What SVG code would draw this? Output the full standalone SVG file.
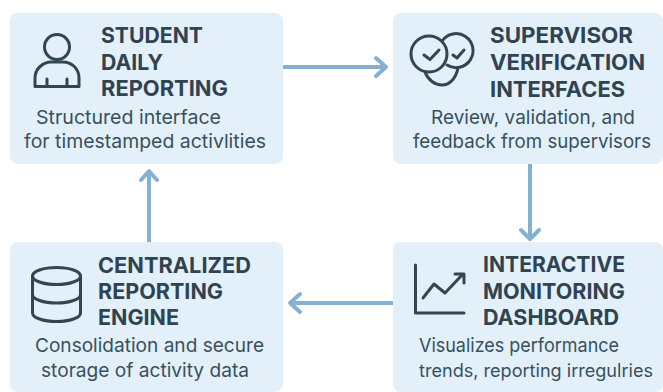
<svg xmlns="http://www.w3.org/2000/svg" width="663" height="392" viewBox="0 0 663 392">
<style>
.box{fill:#e3f0fa}
.t{font-family:"Inter","Liberation Sans",sans-serif;font-weight:700;font-size:21.500px;fill:#2f4350}
.s{font-family:"Inter","Liberation Sans",sans-serif;font-weight:400;font-size:19px;fill:#37505e}
.n{font-size:18px}
.i{fill:none;stroke:#334550;stroke-width:3;stroke-linecap:round;stroke-linejoin:round}
.c{fill:none;stroke:#84b1d2;stroke-width:4;stroke-linecap:butt;stroke-linejoin:round}
.h{fill:none;stroke:#84b1d2;stroke-width:4;stroke-linecap:round;stroke-linejoin:round}
</style>
<rect width="663" height="392" fill="#fff"/>
<g id="connectors">
<path class="c" d="M283 67H385"/><path class="h" d="M376 58L386 67L376 76"/>
<path class="c" d="M530 164V237"/><path class="h" d="M521 230L530 239L539 230"/>
<path class="c" d="M393 303H291"/><path class="h" d="M300 294L290 303L300 312"/>
<path class="c" d="M149 242V172"/><path class="h" d="M141 180L149 171L157 180"/>
</g>
<g id="student">
<rect class="box" x="10" y="13" width="273" height="151" rx="8"/>
<circle class="i" cx="57" cy="47" r="12.500"/>
<path class="i" d="M35 86.500V78C35 68 44 62 51 62H63C71 62 79 68 79 78V86.500ZM47 79V86M67 79V86"/>
<text class="t" x="101" y="43" textLength="102" lengthAdjust="spacingAndGlyphs">STUDENT</text>
<text class="t" x="101" y="70" textLength="62" lengthAdjust="spacingAndGlyphs">DAILY</text>
<text class="t" x="101" y="96" textLength="127" lengthAdjust="spacingAndGlyphs">REPORTING</text>
<text class="s" x="36" y="124" textLength="185" lengthAdjust="spacingAndGlyphs">Structured interface</text>
<text class="s" x="24" y="148" textLength="242" lengthAdjust="spacingAndGlyphs">for timestamped activlities</text>
</g>
<g id="supervisor">
<rect class="box" x="393" y="13" width="270" height="151" rx="8"/>
<circle class="i" cx="429" cy="54" r="18"/>
<path class="i" d="M442 41A17 17 0 1 1 447 65M425 72C428 80 435 85 442 85C450 85 456 78 458 68"/>
<path class="i" d="M424 55L430 59.500L439 50M453 55L457 58L464 50"/>
<text class="t" x="490" y="43" textLength="143" lengthAdjust="spacingAndGlyphs">SUPERVISOR</text>
<text class="t" x="490" y="70" textLength="155" lengthAdjust="spacingAndGlyphs">VERIFICATION</text>
<text class="t" x="490" y="97" textLength="135" lengthAdjust="spacingAndGlyphs">INTERFACES</text>
<text class="s" x="431" y="124" textLength="204" lengthAdjust="spacingAndGlyphs">Review, validation, and</text>
<text class="s" x="413" y="148" textLength="238" lengthAdjust="spacingAndGlyphs">feedback from supervisors</text>
</g>
<g id="engine">
<rect class="box" x="10" y="242" width="273" height="150" rx="8"/>
<ellipse class="i" cx="56.500" cy="276" rx="24" ry="8.500"/>
<path class="i" d="M32.500 276V313A24 8.500 0 0 0 80.500 313V276M32.500 294.500A24 8.500 0 0 0 80.500 294.500"/>
<text class="t" x="98" y="273" textLength="153" lengthAdjust="spacingAndGlyphs">CENTRALIZED</text>
<text class="t" x="98" y="299" textLength="125" lengthAdjust="spacingAndGlyphs">REPORTING</text>
<text class="t" x="98" y="325" textLength="81" lengthAdjust="spacingAndGlyphs">ENGINE</text>
<text class="s" x="35" y="352" textLength="229" lengthAdjust="spacingAndGlyphs">Consolidation and secure</text>
<text class="s" x="41" y="377" textLength="208" lengthAdjust="spacingAndGlyphs">storage of activity data</text>
</g>
<g id="dashboard">
<rect class="box" x="393" y="242" width="270" height="150" rx="8"/>
<path class="i" d="M415.500 265V313H464"/>
<path class="i" d="M423 298L434 284L445 293L463 274M455 274H464V283"/>
<text class="t" x="483" y="272" textLength="142" lengthAdjust="spacingAndGlyphs">INTERACTIVE</text>
<text class="t" x="483" y="299" textLength="142" lengthAdjust="spacingAndGlyphs">MONITORING</text>
<text class="t" x="483" y="325" textLength="136" lengthAdjust="spacingAndGlyphs">DASHBOARD</text>
<text class="s" x="419" y="352" textLength="200" lengthAdjust="spacingAndGlyphs">Visualizes performance</text>
<text class="s n" x="419" y="377" textLength="234" lengthAdjust="spacingAndGlyphs">trends, reporting irregulries</text>
</g>
</svg>
